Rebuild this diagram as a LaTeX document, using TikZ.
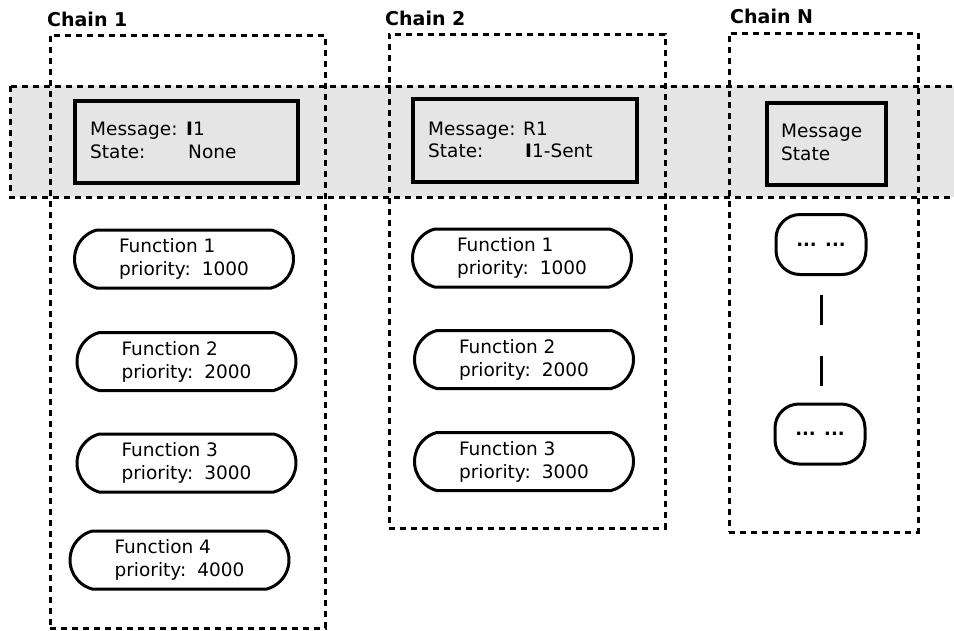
\documentclass[tikz,border=0pt]{standalone}
\usepackage{fontspec}
\setmainfont{DejaVu Sans}
\usetikzlibrary{shapes.misc}
\definecolor{bandgray}{RGB}{229,229,229}
\begin{document}
\begin{tikzpicture}[x=1pt,y=-1pt,
  txt/.style={font=\fontsize{18.5}{23}\selectfont, inner sep=0pt, anchor=base west},
  chainlabel/.style={font=\fontsize{19}{23}\selectfont\bfseries, inner sep=0pt, anchor=base west},
  chainbox/.style={draw, line width=3pt, dash pattern=on 6pt off 5pt, inner sep=0pt},
  band/.style={draw, fill=bandgray, line width=3pt, dash pattern=on 6pt off 5pt},
  msgbox/.style={draw, line width=3.5pt, fill=bandgray, inner sep=0pt},
  func/.style={draw, fill=white, line width=3pt, rounded rectangle, rounded rectangle arc length=150, minimum width=219pt, minimum height=58pt, inner sep=0pt, align=left, font=\fontsize{18.5}{23}\selectfont},
  dotnode/.style={draw, fill=white, line width=3pt, rounded corners=24pt, minimum width=90pt, minimum height=60pt, inner sep=0pt, font=\fontsize{18}{23}\selectfont\bfseries},
  link/.style={line width=3pt, dash pattern=on 0pt off 19pt on 30pt off 31pt on 30pt off 40pt}]
\clip (0,0) rectangle (954,630);
% band
\path[band] (10,86) rectangle (975,197);
% chain boxes
\node[chainbox, minimum width=275pt, minimum height=593pt] (c1) at (187.5,331.5) {};
\node[chainbox, minimum width=276pt, minimum height=494pt] (c2) at (527,281) {};
\node[chainbox, minimum width=189pt, minimum height=499pt] (cN) at (823.5,282.5) {};
% chain labels
\node[chainlabel] (l1) at (47,26) {Chain 1};
\node[chainlabel] (l2) at (385,25) {Chain 2};
\node[chainlabel] (lN) at (730,23) {Chain N};
% message boxes
\node[msgbox, minimum width=223pt, minimum height=82pt] (m1) at (186.5,142) {};
\node[txt] (m1a) at (90,135) {Message:};
\node[txt] (m1b) at (186,135) {\textbf{I}1};
\node[txt] (m1c) at (90,158) {State:};
\node[txt] (m1d) at (188,158) {None};
\node[msgbox, minimum width=224pt, minimum height=83pt] (m2) at (525,140.5) {};
\node[txt] (m2a) at (428,135) {Message:};
\node[txt] (m2b) at (523,135) {R1};
\node[txt] (m2c) at (428,157) {State:};
\node[txt] (m2d) at (525,157) {\textbf{I}1-Sent};
\node[msgbox, minimum width=119pt, minimum height=82pt] (mN) at (826.5,144) {};
\node[txt] (mNa) at (781,137) {Message};
\node[txt] (mNb) at (781,160) {State};
% functions chain 1
\node[func] (f11) at (184,259) {Function 1\\priority:\hspace{0.6em}1000};
\node[func] (f12) at (186.5,361.5) {Function 2\\priority:\hspace{0.6em}2000};
\node[func] (f13) at (186.5,463) {Function 3\\priority:\hspace{0.6em}3000};
\node[func] (f14) at (179.5,560) {Function 4\\priority:\hspace{0.6em}4000};
% functions chain 2
\node[func] (f21) at (522,258) {Function 1\\priority:\hspace{0.6em}1000};
\node[func] (f22) at (524,359.5) {Function 2\\priority:\hspace{0.6em}2000};
\node[func] (f23) at (524,461.5) {Function 3\\priority:\hspace{0.6em}3000};
% chain N
\node[dotnode] (n1) at (821,244.5) {... ...};
\node[dotnode] (n2) at (820,434) {... ...};
\draw[link] (n1.south -| 821,0) -- (n2.north -| 821,0);
\end{tikzpicture}
\end{document}
